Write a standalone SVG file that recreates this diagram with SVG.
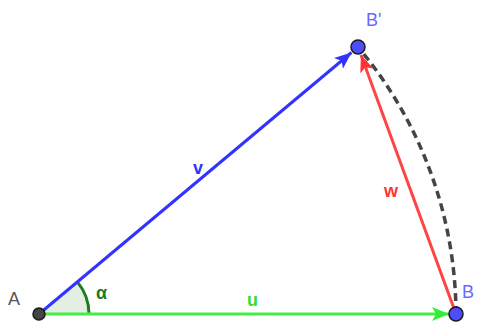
<svg xmlns="http://www.w3.org/2000/svg" width="479" height="323" viewBox="0 0 479 323">
<style>
.lbl{font-family:"Liberation Sans",Arial,sans-serif;font-size:18px;}
.pt{stroke:#1a1a1a;stroke-width:1.5;}
</style>
<defs>
<marker id="ab" markerUnits="userSpaceOnUse" markerWidth="20" markerHeight="16" refX="17" refY="8" orient="auto"><path d="M0,1 L17,8 L0,15 L4,8 Z" fill="#3333ff"/></marker>
<marker id="ag" markerUnits="userSpaceOnUse" markerWidth="20" markerHeight="16" refX="17" refY="8" orient="auto"><path d="M0,1 L17,8 L0,15 L4,8 Z" fill="#33ee33"/></marker>
<marker id="ar" markerUnits="userSpaceOnUse" markerWidth="20" markerHeight="16" refX="17" refY="8" orient="auto"><path d="M0,1 L17,8 L0,15 L4,8 Z" fill="#ff3333"/></marker>
</defs>
<g id="angle">
<path d="M39,314 L89,314 A50,50 0 0 0 77.3,281.9 Z" fill="#e3efe3" stroke="none"/>
<path d="M89,314 A50,50 0 0 0 77.3,281.9" fill="none" stroke="#1e7d1e" stroke-width="3"/>
<text class="lbl" x="96" y="299" fill="#1e7d1e" font-weight="bold">α</text>
</g>
<g id="connectors">
<path d="M456,314 A417,417 0 0 0 358,47" fill="none" stroke="#444" stroke-width="3.5" stroke-dasharray="8,5"/>
<line x1="39" y1="314" x2="351.5" y2="52.5" stroke="#3333ff" stroke-width="3" marker-end="url(#ab)"/>
<line x1="39" y1="314" x2="449" y2="314" stroke="#44ee44" stroke-width="3" marker-end="url(#ag)"/>
<line x1="456" y1="314" x2="361" y2="55" stroke="#ff4444" stroke-width="3" marker-end="url(#ar)"/>
<text class="lbl" x="193" y="174" fill="#3333ff" font-weight="bold">v</text>
<text class="lbl" x="247" y="306" fill="#33dd33" font-weight="bold">u</text>
<text class="lbl" x="384" y="197" fill="#ff3333" font-weight="bold">w</text>
</g>
<g id="A">
<circle class="pt" cx="39" cy="314" r="6" fill="#444"/>
<text class="lbl" x="8" y="305" fill="#555" font-size="19">A</text>
</g>
<g id="B">
<circle class="pt" cx="456" cy="314" r="7" fill="#4d4dff"/>
<text class="lbl" x="462" y="298" fill="#6a6aff" font-size="19">B</text>
</g>
<g id="Bp">
<circle class="pt" cx="358" cy="47" r="7" fill="#4d4dff"/>
<text class="lbl" x="366" y="26" fill="#6a6aff" font-size="19">B'</text>
</g>
</svg>
